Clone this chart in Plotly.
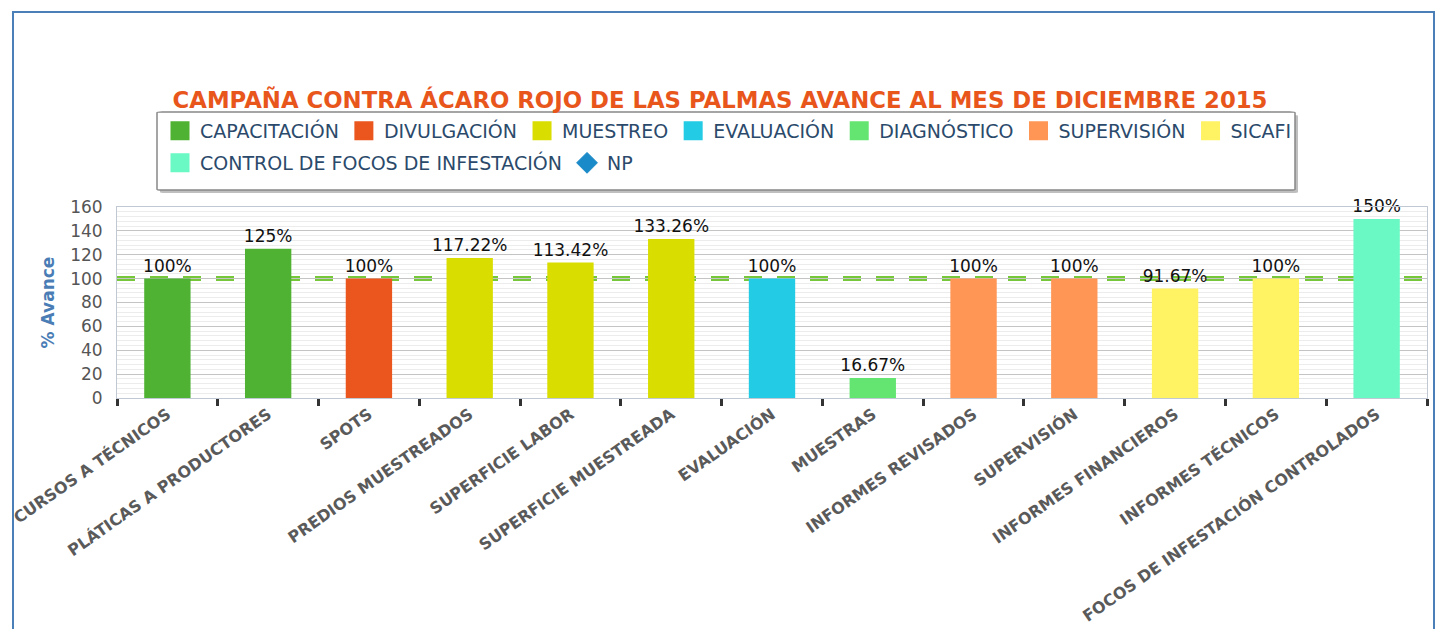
import plotly.graph_objects as go

categorias = ['CURSOS A TÉCNICOS', 'PLÁTICAS A PRODUCTORES', 'SPOTS', 'PREDIOS MUESTREADOS',
              'SUPERFICIE LABOR', 'SUPERFICIE MUESTREADA', 'EVALUACIÓN', 'MUESTRAS',
              'INFORMES REVISADOS', 'SUPERVISIÓN', 'INFORMES FINANCIEROS', 'INFORMES TÉCNICOS',
              'FOCOS DE INFESTACIÓN CONTROLADOS']
avance = [100, 125, 100, 117.22, 113.42, 133.26, 100, 16.67, 100, 100, 91.67, 100, 150]
grupo = ['CAPACITACIÓN', 'CAPACITACIÓN', 'DIVULGACIÓN', 'MUESTREO', 'MUESTREO', 'MUESTREO',
         'EVALUACIÓN', 'DIAGNÓSTICO', 'SUPERVISIÓN', 'SUPERVISIÓN', 'SICAFI', 'SICAFI',
         'CONTROL DE FOCOS DE INFESTACIÓN']
grupos = ['CAPACITACIÓN', 'DIVULGACIÓN', 'MUESTREO', 'EVALUACIÓN', 'DIAGNÓSTICO',
          'SUPERVISIÓN', 'SICAFI', 'CONTROL DE FOCOS DE INFESTACIÓN']
colores = ['#4fb233', '#ea561d', '#dade00', '#24cbe5', '#64e572',
           '#ff9655', '#fff263', '#6af9c4']
meta = 100

W, H = 1440, 629
ml, mr, mt, mb = 117, 13, 207, 231

fig = go.Figure()

for i, (g, c) in enumerate(zip(grupos, colores)):
    xs = [cat for cat, gg in zip(categorias, grupo) if gg == g]
    ys = [v for v, gg in zip(avance, grupo) if gg == g]
    fig.add_trace(go.Bar(
        x=xs, y=ys, name=g, marker_color=c, marker_line_width=0,
        width=0.46, showlegend=False, legendgroup=g,
        text=[f'{v:g}%' for v in ys], textposition='outside', cliponaxis=False,
        constraintext='none',
        textfont=dict(family='DejaVu Sans', size=17, color='#111111'),
        hoverinfo='x+y'))
    # entrada de leyenda con cuadro grande
    fig.add_trace(go.Scatter(
        x=[None], y=[None], name=g, mode='markers', legendgroup=g,
        legend='legend' if i < 7 else 'legend2',
        marker=dict(symbol='square', size=16, color=c, line=dict(color=c, width=3))))

fig.add_trace(go.Scatter(
    x=[None], y=[None], name='NP', mode='markers', legend='legend2',
    marker=dict(symbol='diamond', size=16, color='#1a8ac8', line=dict(color='#1a8ac8', width=1))))

leyenda = dict(orientation='h', xref='container', yref='container', xanchor='left', yanchor='middle',
               font=dict(family='DejaVu Sans', size=19, color='#2b4a6b'),
               bgcolor='rgba(0,0,0,0)', itemsizing='trace', traceorder='normal', itemwidth=30)

fig.update_layout(
    width=W, height=H,
    barmode='overlay',
    plot_bgcolor='white', paper_bgcolor='white',
    margin=dict(l=ml, r=mr, t=mt, b=mb, autoexpand=False),
    font=dict(family='DejaVu Sans', color='#555555'),
    title=dict(text='<b>CAMPAÑA CONTRA ÁCARO ROJO DE LAS PALMAS AVANCE AL MES DE DICIEMBRE 2015</b>',
               x=0.5, xanchor='center', xref='container', yref='container',
               y=1 - 100 / H, yanchor='middle',
               font=dict(family='DejaVu Sans', size=22.8, color='#e8561c')),
    legend=dict(leyenda, x=160 / W, y=1 - 131 / H),
    legend2=dict(leyenda, x=160 / W, y=1 - 163 / H),
    showlegend=True,
)

fig.update_xaxes(
    type='category', categoryorder='array', categoryarray=categorias,
    range=[-0.5, len(categorias) - 0.5], automargin=False,
    tickangle=-35, tickson='boundaries', ticks='outside', ticklen=7, tickwidth=3,
    tickcolor='#333333',
    tickfont=dict(family='DejaVu Sans', size=16, color='#5a5a5a', weight='bold'),
    showline=True, linecolor='#c0c8d4', linewidth=1, mirror=True,
    showgrid=False)

fig.update_yaxes(
    range=[0, 160], dtick=20, automargin=False, ticklabelstandoff=10,
    title=dict(text='<b>% Avance</b>', font=dict(family='DejaVu Sans', size=17, color='#4a7db5'),
               standoff=11),
    tickfont=dict(family='DejaVu Sans', size=17, color='#555555'),
    showgrid=True, gridcolor='#c4c4c4', gridwidth=1,
    minor=dict(dtick=4, showgrid=True, gridcolor='#ececec', gridwidth=1),
    showline=True, linecolor='#c0c8d4', linewidth=1, mirror=True,
    zeroline=False)

# linea de meta al 100%
fig.add_hline(y=meta, line=dict(color='#76c83a', width=5, dash='18px,15px'), layer='below', opacity=1)

# marco exterior (en pixeles del lienzo)
def px_x(p):
    return (p - ml) / (W - ml - mr)

def px_y(p):
    return (H - mb - p) / (H - mt - mb)

fig.add_shape(type='rect', xref='paper', yref='paper',
              x0=px_x(13), x1=px_x(1434), y0=px_y(660), y1=px_y(12),
              line=dict(color='#4a7fb8', width=2), layer='below')

# caja de leyenda redondeada con sombra
def caja_redondeada(x0, y0, x1, y1, r):
    return (f'M {x0 + r},{y0} L {x1 - r},{y0} Q {x1},{y0} {x1},{y0 + r} '
            f'L {x1},{y1 - r} Q {x1},{y1} {x1 - r},{y1} L {x0 + r},{y1} '
            f'Q {x0},{y1} {x0},{y1 - r} L {x0},{y0 + r} Q {x0},{y0} {x0 + r},{y0} Z')

for dx, relleno, borde in [(3, 'rgba(0,0,0,0.25)', 0), (0, 'white', 1.5)]:
    fig.add_shape(type='path', xref='paper', yref='paper',
                  path=caja_redondeada(px_x(157 + dx), px_y(190 + dx), px_x(1295 + dx), px_y(112 + dx), 0.004),
                  fillcolor=relleno, line=dict(color='#888888', width=borde), layer='below')

fig.write_html('out.html', config={'displayModeBar': False},
               post_script="document.body.style.margin='0';")
